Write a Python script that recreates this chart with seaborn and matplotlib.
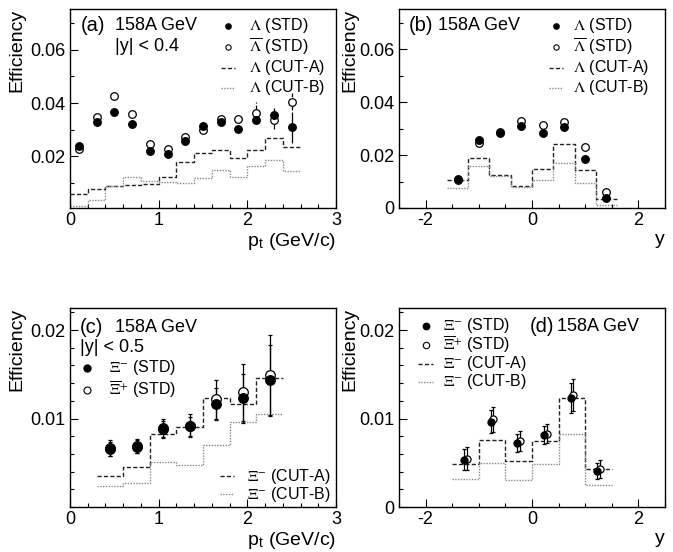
import numpy as np
import matplotlib
matplotlib.use('Agg')
import matplotlib.pyplot as plt
import seaborn as sns
from matplotlib.ticker import MultipleLocator, FixedLocator, FuncFormatter

# ── Data ──────────────────────────────────────────────────────
# (a) Lambda efficiency vs pt, |y| < 0.4
a_pt = [0.1, 0.3, 0.5, 0.7, 0.9, 1.1, 1.3, 1.5, 1.7, 1.9, 2.1, 2.3, 2.5]
a_lam = [0.0240, 0.0327, 0.0366, 0.0323, 0.0219, 0.0207, 0.0256,
         0.0312, 0.0330, 0.0304, 0.0336, 0.0356, 0.0309]
a_alam = [0.0227, 0.0346, 0.0428, 0.0358, 0.0247, 0.0226, 0.0273,
          0.0297, 0.0340, 0.0339, 0.0364, 0.0338, 0.0405]
a_lam_err = [0.0004, 0.0004, 0.0005, 0.0005, 0.0005, 0.0005, 0.0006,
             0.0007, 0.0008, 0.0009, 0.0012, 0.0025, 0.0058]
a_alam_err = [0.0004, 0.0005, 0.0006, 0.0006, 0.0006, 0.0006, 0.0007,
              0.0008, 0.0010, 0.0012, 0.0040, 0.0035, 0.0032]
a_edges = [0.0, 0.2, 0.4, 0.6, 0.8, 1.0, 1.2, 1.4, 1.6, 1.8, 2.0, 2.2, 2.4, 2.6]
a_cutA = [0.0060, 0.0079, 0.0088, 0.0091, 0.0097, 0.0124, 0.0180,
          0.0213, 0.0225, 0.0194, 0.0222, 0.0270, 0.0235]
a_cutB = [0.0014, 0.0036, 0.0088, 0.0121, 0.0108, 0.0103, 0.0101,
          0.0119, 0.0147, 0.0123, 0.0163, 0.0185, 0.0144]

# (b) Lambda efficiency vs y
b_y = [-1.4, -1.0, -0.6, -0.2, 0.2, 0.6, 1.0, 1.4]
b_lam = [0.0108, 0.0257, 0.0285, 0.0310, 0.0285, 0.0307, 0.0185, 0.0037]
b_alam = [0.0106, 0.0245, 0.0287, 0.0330, 0.0315, 0.0324, 0.0229, 0.0062]
b_edges = [-1.6, -1.2, -0.8, -0.4, 0.0, 0.4, 0.8, 1.2, 1.6]
b_cutA = [0.0106, 0.0190, 0.0125, 0.0083, 0.0147, 0.0242, 0.0144, 0.0033]
b_cutB = [0.0074, 0.0159, 0.0121, 0.0078, 0.0106, 0.0169, 0.0093, 0.0011]

# (c) Xi efficiency vs pt, |y| < 0.5
c_pt = [0.45, 0.75, 1.05, 1.35, 1.65, 1.95, 2.25]
c_xi = [0.00653, 0.00683, 0.00883, 0.00913, 0.01160, 0.01227, 0.01434]
c_axi = [0.00672, 0.00694, 0.00890, 0.00920, 0.01216, 0.01295, 0.01491]
c_xi_err = [0.0008, 0.0007, 0.0009, 0.0011, 0.0018, 0.0028, 0.0040]
c_axi_err = [0.0009, 0.0008, 0.0011, 0.0013, 0.0022, 0.0032, 0.0045]
c_edges = [0.3, 0.6, 0.9, 1.2, 1.5, 1.8, 2.1, 2.4]
c_cutA = [0.00347, 0.00452, 0.00822, 0.00906, 0.01227, 0.01170, 0.01453]
c_cutB = [0.00237, 0.00271, 0.00509, 0.00471, 0.00698, 0.00962, 0.01057]

# (d) Xi efficiency vs y
d_y = [-1.25, -0.75, -0.25, 0.25, 0.75, 1.25]
d_xi = [0.00537, 0.00963, 0.00725, 0.00812, 0.01228, 0.00408]
d_axi = [0.00548, 0.00990, 0.00744, 0.00831, 0.01265, 0.00427]
d_xi_err = [0.0012, 0.0013, 0.0010, 0.0010, 0.0017, 0.0009]
d_axi_err = [0.0013, 0.0014, 0.0011, 0.0011, 0.0018, 0.0010]
d_edges = [-1.5, -1.0, -0.5, 0.0, 0.5, 1.0, 1.5]
d_cutA = [0.00490, 0.00763, 0.00518, 0.00748, 0.01228, 0.00435]
d_cutB = [0.00321, 0.00499, 0.00302, 0.00484, 0.00820, 0.00246]

# ── Style ─────────────────────────────────────────────────────
sns.set_theme(style='ticks')
plt.rcParams['font.family'] = ['Liberation Sans', 'DejaVu Sans']
plt.rcParams['mathtext.fontset'] = 'stix'
plt.rcParams['axes.unicode_minus'] = False
for k in ['text.color', 'axes.labelcolor', 'xtick.color', 'ytick.color',
          'axes.edgecolor']:
    plt.rcParams[k] = 'black'

DASH = (0, (3, 1.6))
DOT = (0, (1, 1))
C_A = '#222222'
C_B = '#888888'

fig = plt.figure(figsize=(6.73, 5.52), dpi=100)
W, H = 673, 552


def make_ax(l, t, r, b):
    return fig.add_axes([l / W, 1 - b / H, (r - l) / W, (b - t) / H])


def style_ax(ax, xlim, ylim, xmaj, xmin, yticks, ymin, xlabel, xlab_x):
    ax.set_xlim(*xlim)
    ax.set_ylim(*ylim)
    ax.xaxis.set_major_locator(MultipleLocator(xmaj))
    ax.xaxis.set_minor_locator(MultipleLocator(xmin))
    ax.yaxis.set_major_locator(FixedLocator(yticks))
    ax.yaxis.set_minor_locator(MultipleLocator(ymin))
    fmt = FuncFormatter(lambda v, p: f'{v:g}')
    ax.xaxis.set_major_formatter(fmt)
    ax.yaxis.set_major_formatter(fmt)
    ax.tick_params(which='both', direction='in', top=False, right=False,
                   labelsize=13, width=0.8)
    ax.tick_params(which='major', length=5.5, pad=3)
    ax.tick_params(which='minor', length=2.8)
    for s in ax.spines.values():
        s.set_linewidth(1.0)
    ax.set_ylabel('Efficiency', fontsize=14, loc='top')
    ax.yaxis.set_label_coords(xlab_x, 1.0)
    ax.set_xlabel(xlabel, fontsize=14, loc='right')
    ax.xaxis.set_label_coords(1.0, -0.115)


def stairs(ax, edges, vals, ls, color):
    yv = list(vals) + [vals[-1]]
    sns.lineplot(x=edges, y=yv, ax=ax, drawstyle='steps-post', estimator=None,
                 sort=False, color=color, linestyle=ls, linewidth=1.0,
                 legend=False, zorder=2)


def points(ax, x, y, s, filled):
    sns.scatterplot(x=x, y=y, ax=ax, marker='o', s=s,
                    color='black' if filled else 'white',
                    edgecolor='black', linewidth=0.9, legend=False,
                    zorder=4 if filled else 3)


def errs(ax, x, y, e, ls='-', cap=0):
    eb = ax.errorbar(x, y, yerr=e, fmt='none', ecolor='black',
                     elinewidth=0.9, capsize=cap, capthick=0.9, zorder=2.5)
    eb[2][0].set_linestyle(ls)


def leg(ax, rows, xm, xt, ys, fs, ms):
    for (kind, label), y in zip(rows, ys):
        if kind == 'filled':
            ax.plot([xm], [y], 'o', ms=ms, mfc='black', mec='black',
                    transform=ax.transAxes)
        elif kind == 'open':
            ax.plot([xm], [y], 'o', ms=ms, mfc='white', mec='black', mew=0.8,
                    transform=ax.transAxes)
        elif kind == 'A':
            ax.plot([xm - 0.027, xm + 0.027], [y, y], ls=DASH, color=C_A, lw=1.0,
                    transform=ax.transAxes)
        else:
            ax.plot([xm - 0.027, xm + 0.027], [y, y], ls=DOT, color=C_B, lw=1.0,
                    transform=ax.transAxes)
        ax.text(xt, y, label, fontsize=fs, ha='left', va='center',
                transform=ax.transAxes)


ptlab = r'p$_{\mathregular{t}}$ (GeV/c)'
LAB = 14.5

# ── (a) ───────────────────────────────────────────────────────
ax = make_ax(70, 9, 336, 208)
stairs(ax, a_edges, a_cutA, DASH, C_A)
stairs(ax, a_edges, a_cutB, DOT, C_B)
errs(ax, a_pt, a_alam, a_alam_err, ls='--')
errs(ax, a_pt, a_lam, a_lam_err)
points(ax, a_pt, a_alam, 30, False)
points(ax, a_pt, a_lam, 30, True)
style_ax(ax, (0, 3), (0.0006, 0.0753), 1, 0.2, [0.02, 0.04, 0.06], 0.01,
         ptlab, -0.169)
ax.text(0.04, 0.915, '(a)', fontsize=LAB, transform=ax.transAxes, va='center')
ax.text(0.17, 0.915, '158A GeV', fontsize=13, transform=ax.transAxes, va='center')
ax.text(0.17, 0.81, '|y| < 0.4', fontsize=13, transform=ax.transAxes, va='center')
leg(ax, [('filled', r'$\Lambda$ (STD)'), ('open', r'$\overline{\Lambda}$ (STD)'),
         ('A', r'$\Lambda$ (CUT-A)'), ('B', r'$\Lambda$ (CUT-B)')],
    0.595, 0.672, [0.915, 0.81, 0.705, 0.605], 11.5, 3.8)

# ── (b) ───────────────────────────────────────────────────────
ax = make_ax(399, 9, 665, 208)
stairs(ax, b_edges, b_cutA, DASH, C_A)
stairs(ax, b_edges, b_cutB, DOT, C_B)
points(ax, b_y, b_alam, 30, False)
points(ax, b_y, b_lam, 30, True)
style_ax(ax, (-2.5, 2.5), (0, 0.0753), 2, 0.5, [0, 0.02, 0.04, 0.06], 0.01,
         'y', -0.154)
ax.text(0.035, 0.915, '(b)', fontsize=LAB, transform=ax.transAxes, va='center')
ax.text(0.145, 0.915, '158A GeV', fontsize=13, transform=ax.transAxes, va='center')
leg(ax, [('filled', r'$\Lambda$ (STD)'), ('open', r'$\overline{\Lambda}$ (STD)'),
         ('A', r'$\Lambda$ (CUT-A)'), ('B', r'$\Lambda$ (CUT-B)')],
    0.59, 0.655, [0.915, 0.81, 0.705, 0.605], 11.5, 3.8)

# ── (c) ───────────────────────────────────────────────────────
ax = make_ax(70, 308, 336, 507)
stairs(ax, c_edges, c_cutA, DASH, C_A)
stairs(ax, c_edges, c_cutB, DOT, C_B)
errs(ax, c_pt, c_axi, c_axi_err, cap=1.5)
errs(ax, c_pt, c_xi, c_xi_err, cap=1.5)
points(ax, c_pt, c_axi, 48, False)
points(ax, c_pt, c_xi, 48, True)
style_ax(ax, (0, 3), (0, 0.0225), 1, 0.2, [0.01, 0.02], 0.002, ptlab, -0.169)
ax.text(0.038, 0.9, '(c)', fontsize=LAB, transform=ax.transAxes, va='center')
ax.text(0.17, 0.9, '158A GeV', fontsize=13, transform=ax.transAxes, va='center')
ax.text(0.038, 0.8, '|y| < 0.5', fontsize=13, transform=ax.transAxes, va='center')
leg(ax, [('filled', r'$\Xi^{-}$ (STD)'), ('open', r'$\overline{\Xi}^{+}$ (STD)')],
    0.065, 0.145, [0.70, 0.59], 11.5, 5)
leg(ax, [('A', r'$\Xi^{-}$ (CUT-A)'), ('B', r'$\Xi^{-}$ (CUT-B)')],
    0.59, 0.665, [0.155, 0.065], 11.5, 5)

# ── (d) ───────────────────────────────────────────────────────
ax = make_ax(399, 308, 665, 507)
dxf = [v - 0.025 for v in d_y]
dxo = [v + 0.025 for v in d_y]
stairs(ax, d_edges, d_cutA, DASH, C_A)
stairs(ax, d_edges, d_cutB, DOT, C_B)
errs(ax, dxo, d_axi, d_axi_err, cap=1.5)
errs(ax, dxf, d_xi, d_xi_err, cap=1.5)
points(ax, dxo, d_axi, 26, False)
points(ax, dxf, d_xi, 26, True)
style_ax(ax, (-2.5, 2.5), (0, 0.0225), 2, 0.5, [0, 0.01, 0.02], 0.002,
         'y', -0.154)
ax.text(0.49, 0.905, '(d)', fontsize=LAB, transform=ax.transAxes, va='center')
ax.text(0.595, 0.905, '158A GeV', fontsize=13, transform=ax.transAxes, va='center')
leg(ax, [('filled', r'$\Xi^{-}$ (STD)'), ('open', r'$\overline{\Xi}^{+}$ (STD)'),
         ('A', r'$\Xi^{-}$ (CUT-A)'), ('B', r'$\Xi^{-}$ (CUT-B)')],
    0.1, 0.165, [0.91, 0.815, 0.72, 0.63], 11.5, 4.6)

fig.savefig('out.png', dpi=100, facecolor='white')
